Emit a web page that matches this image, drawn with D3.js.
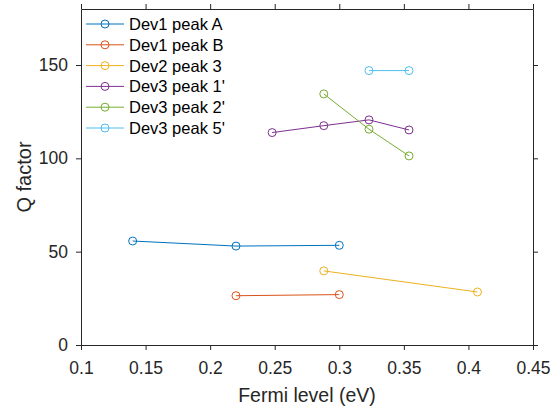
<!DOCTYPE html>
<html>
<head>
<meta charset="utf-8">
<script src="https://cdn.jsdelivr.net/npm/d3@7"></script>
<style>
  body { margin: 0; background: #fff; }
  text { font-family: "Liberation Sans", Arial, sans-serif; fill: #262626; }
</style>
</head>
<body>
<div id="wrapper"></div>
<script>
// series names and values
const seriesNames = ["Dev1 peak A", "Dev1 peak B", "Dev2 peak 3", "Dev3 peak 1'", "Dev3 peak 2'", "Dev3 peak 5'"]
const devAx = [0.14, 0.22, 0.30]
const devAy = [55.7, 53.0, 53.4]
const devBx = [0.22, 0.30]
const devBy = [26.4, 27.0]
const dev2x = [0.288, 0.407]
const dev2y = [39.7, 28.4]
const dev31x = [0.248, 0.288, 0.323, 0.354]
const dev31y = [113.8, 117.5, 120.6, 115.2]
const dev32x = [0.288, 0.323, 0.354]
const dev32y = [134.5, 115.6, 101.3]
const dev35x = [0.323, 0.354]
const dev35y = [147.0, 147.0]
const xTicks = [0.1, 0.15, 0.2, 0.25, 0.3, 0.35, 0.4, 0.45]
const yTicks = [0, 50, 100, 150]
const colors = ["#0072BD", "#D95319", "#EDB120", "#7E2F8E", "#77AC30", "#4DBEEE"]

const xs = [devAx, devBx, dev2x, dev31x, dev32x, dev35x]
const ys = [devAy, devBy, dev2y, dev31y, dev32y, dev35y]
const series = seriesNames.map((name, i) => ({
    name: name,
    color: colors[i],
    points: xs[i].map((x, j) => ({ x: x, y: ys[i][j] }))
}))

let dimensions = {
    width: 553,
    height: 411,
    margin: { top: 9, right: 20, bottom: 66, left: 81 },
}
dimensions.boundedWidth = dimensions.width - dimensions.margin.left - dimensions.margin.right
dimensions.boundedHeight = dimensions.height - dimensions.margin.top - dimensions.margin.bottom

const wrapper = d3.select("#wrapper")
    .append("svg")
    .attr("width", dimensions.width)
    .attr("height", dimensions.height)

const bounds = wrapper.append("g")
    .attr("transform", `translate(${dimensions.margin.left},${dimensions.margin.top})`)

const xScaler = d3.scaleLinear()
    .domain([0.1, 0.45])
    .range([0, dimensions.boundedWidth])

const yScaler = d3.scaleLinear()
    .domain([0, 180])
    .range([dimensions.boundedHeight, 0])

// axes, ticks outward on all four sides like the matlab box
const tickSize = 5
const styleAxis = g => {
    g.select(".domain").attr("stroke", "#262626")
    g.selectAll(".tick line").attr("stroke", "#262626")
    g.selectAll(".tick text").attr("font-size", "17.5px").attr("fill", "#262626")
}

bounds.append("g")
    .attr("transform", `translate(0,${dimensions.boundedHeight})`)
    .call(d3.axisBottom(xScaler).tickValues(xTicks).tickSize(tickSize).tickPadding(12).tickSizeOuter(0).tickFormat(d3.format("")))
    .call(styleAxis)

bounds.append("g")
    .call(d3.axisTop(xScaler).tickValues(xTicks).tickSize(tickSize).tickSizeOuter(0).tickFormat(""))
    .call(styleAxis)

bounds.append("g")
    .call(d3.axisLeft(yScaler).tickValues(yTicks).tickSize(tickSize).tickPadding(8).tickSizeOuter(0))
    .call(styleAxis)

bounds.append("g")
    .attr("transform", `translate(${dimensions.boundedWidth},0)`)
    .call(d3.axisRight(yScaler).tickValues(yTicks).tickSize(tickSize).tickSizeOuter(0).tickFormat(""))
    .call(styleAxis)

// series lines and circle markers
const lineGen = d3.line()
    .x(d => xScaler(d.x))
    .y(d => yScaler(d.y))

const seriesGroups = bounds.selectAll(".series")
    .data(series)
    .enter()
    .append("g")

seriesGroups.append("path")
    .attr("d", d => lineGen(d.points))
    .attr("fill", "none")
    .attr("stroke", d => d.color)
    .attr("stroke-width", 1)

seriesGroups.selectAll("circle")
    .data(d => d.points.map(p => ({ ...p, color: d.color })))
    .enter()
    .append("circle")
    .attr("cx", d => xScaler(d.x))
    .attr("cy", d => yScaler(d.y))
    .attr("r", 4)
    .attr("fill", "none")
    .attr("stroke", d => d.color)
    .attr("stroke-width", 1)

// legend, no box
const legend = wrapper.append("g")
const legendRow = 20.8
const legendItems = legend.selectAll("g")
    .data(series)
    .enter()
    .append("g")
    .attr("transform", (d, i) => `translate(86,${24 + i * legendRow})`)

legendItems.append("line")
    .attr("x1", 0)
    .attr("x2", 38)
    .attr("stroke", d => d.color)
    .attr("stroke-width", 1)

legendItems.append("circle")
    .attr("cx", 19)
    .attr("r", 4)
    .attr("fill", "none")
    .attr("stroke", d => d.color)

legendItems.append("text")
    .attr("x", 43)
    .attr("y", 6)
    .attr("font-size", "16.5px")
    .style("fill", "#000")
    .text(d => d.name)

// axis labels
wrapper.append("text")
    .attr("x", dimensions.margin.left + dimensions.boundedWidth / 2)
    .attr("y", 402)
    .attr("text-anchor", "middle")
    .attr("font-size", "19.5px")
    .text("Fermi level (eV)")

wrapper.append("text")
    .attr("transform", `translate(31,${dimensions.margin.top + dimensions.boundedHeight / 2}) rotate(-90)`)
    .attr("text-anchor", "middle")
    .attr("font-size", "20px")
    .text("Q factor")
</script>
</body>
</html>
